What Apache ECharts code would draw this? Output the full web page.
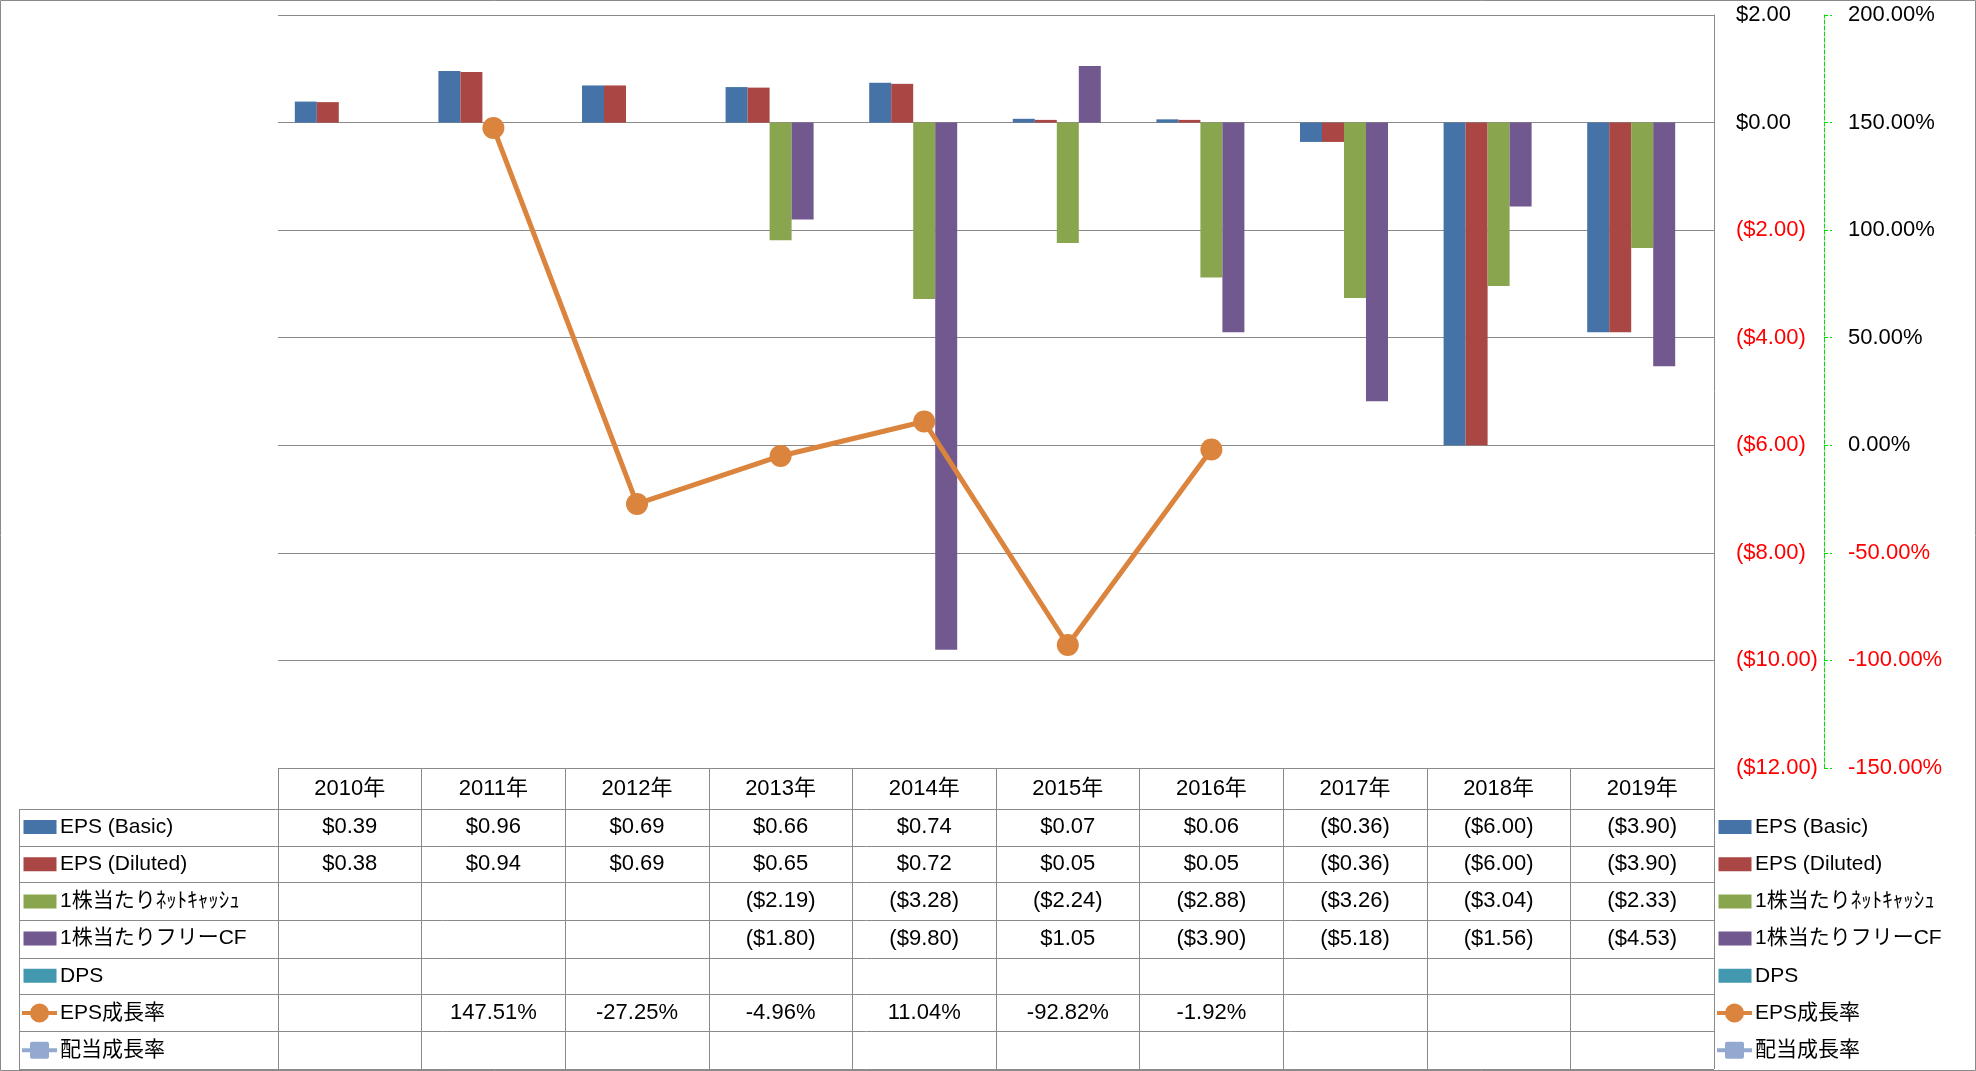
<!DOCTYPE html>
<html>
<head>
<meta charset="utf-8">
<script src="https://cdn.jsdelivr.net/npm/echarts@6/dist/echarts.min.js"></script>
<style>
html,body{margin:0;padding:0;background:#fff;}
#c{width:1976px;height:1071px;}
</style>
</head>
<body>
<div id="c"></div>
<script>
const years = ['2010年','2011年','2012年','2013年','2014年','2015年','2016年','2017年','2018年','2019年'];
const epsBasic   = [0.39, 0.96, 0.69, 0.66, 0.74, 0.07, 0.06, -0.36, -6.00, -3.90];
const epsDiluted = [0.38, 0.94, 0.69, 0.65, 0.72, 0.05, 0.05, -0.36, -6.00, -3.90];
const netCash    = [null, null, null, -2.19, -3.28, -2.24, -2.88, -3.26, -3.04, -2.33];
const freeCF     = [null, null, null, -1.80, -9.80, 1.05, -3.90, -5.18, -1.56, -4.53];
const dps        = [null, null, null, null, null, null, null, null, null, null];
const epsGrowth  = [null, 147.51, -27.25, -4.96, 11.04, -92.82, -1.92, null, null, null];
const divGrowth  = [null, null, null, null, null, null, null, null, null, null];

const seriesNames = ['EPS (Basic)', 'EPS (Diluted)', '1株当たりﾈｯﾄｷｬｯｼｭ', '1株当たりフリーCF', 'DPS', 'EPS成長率', '配当成長率'];
const colors = ['#4572A7', '#AA4643', '#89A54E', '#71588F', '#4198AF', '#DB843D', '#93A9CF'];

const dollarAxis = {min: -12, max: 2, interval: 2};
const pctAxis = {min: -150, max: 200, interval: 50};

const FONT = "'Liberation Sans', 'Noto Sans CJK JP', sans-serif";
const GRID = {left: 278, top: 15, width: 1436, height: 753};
const gridBottom = GRID.top + GRID.height;
const rowLines = [809, 845.5, 882, 920, 957.5, 994, 1031, 1069];
const tableLeft = 19;
const lineGray = '#8a8a8a';

function money(v) {
  if (v === null || v === undefined) return '';
  return v >= 0 ? '$' + v.toFixed(2) : '($' + Math.abs(v).toFixed(2) + ')';
}
function pct(v) {
  if (v === null || v === undefined) return '';
  return v.toFixed(2) + '%';
}

const rows = [
  {data: epsBasic, fmt: money},
  {data: epsDiluted, fmt: money},
  {data: netCash, fmt: money},
  {data: freeCF, fmt: money},
  {data: dps, fmt: money},
  {data: epsGrowth, fmt: pct},
  {data: divGrowth, fmt: pct}
];

const xAxes = [{
  type: 'category', data: years, gridIndex: 0, position: 'bottom',
  axisLine: {show: false, onZero: false},
  axisTick: {show: true, length: 1069 - gridBottom, lineStyle: {color: lineGray, width: 1}},
  splitLine: {show: false},
  axisLabel: {interval: 0, margin: (768 + 809) / 2 - gridBottom, verticalAlign: 'middle',
              fontSize: 22, color: '#000', fontFamily: FONT}
}];
rows.forEach(function (r, k) {
  const top = rowLines[k];
  const bot = rowLines[k + 1];
  xAxes.push({
    type: 'category', data: years, gridIndex: 0, position: 'bottom',
    axisLine: {show: false, onZero: false},
    axisTick: {show: false},
    splitLine: {show: false},
    axisLabel: {interval: 0, margin: (top + bot) / 2 - gridBottom, verticalAlign: 'middle',
                fontSize: 22, color: '#000', fontFamily: FONT,
                formatter: function (v, i) { return r.fmt(r.data[i]); }}
  });
});

const barData = [epsBasic, epsDiluted, netCash, freeCF, dps];
const series = [];
barData.forEach(function (d, i) {
  series.push({
    name: seriesNames[i], type: 'bar', xAxisIndex: 0, yAxisIndex: 0,
    data: d, barGap: '0%', barCategoryGap: '23.4%',
    itemStyle: {color: colors[i]}
  });
});
series.push({
  name: seriesNames[5], type: 'line', xAxisIndex: 0, yAxisIndex: 1,
  data: epsGrowth, symbol: 'circle', symbolSize: 22,
  lineStyle: {color: colors[5], width: 5}, itemStyle: {color: colors[5]}
});
series.push({
  name: seriesNames[6], type: 'line', xAxisIndex: 0, yAxisIndex: 1,
  data: divGrowth, symbol: 'rect', symbolSize: 18,
  lineStyle: {color: colors[6], width: 5}, itemStyle: {color: colors[6]}
});

const barIcon = 'path://M0,0 L0.01,0 M1,2.5 L34,2.5 L34,16.5 L1,16.5 Z M0,19 L0.01,19';
const circleIcon = 'path://M0,7.5 L35,7.5 L35,11.5 L0,11.5 Z M8,9.5 A9.5,9.5 0 1,1 27,9.5 A9.5,9.5 0 1,1 8,9.5 Z';
const squareIcon = 'path://M0,7.5 L35,7.5 L35,11.5 L0,11.5 Z M10,1 L25,1 Q27,1 27,3 L27,16 Q27,18 25,18 L10,18 Q8,18 8,16 L8,3 Q8,1 10,1 Z M0,0 L0.01,0 M0,19 L0.01,19';

function legendData() {
  return seriesNames.map(function (n, i) {
    return {name: n, icon: i < 5 ? barIcon : (i === 5 ? circleIcon : squareIcon)};
  });
}
function makeLegend(left) {
  return {
    orient: 'vertical', left: left, top: 816.5, padding: 0, itemWidth: 35, itemHeight: 19, itemGap: 16.2,
    selectedMode: false, data: legendData(),
    textStyle: {fontSize: 21, color: '#000', fontFamily: FONT, padding: [0, 0, 0, -2]}
  };
}

const graphics = [];
rowLines.forEach(function (y) {
  graphics.push({type: 'line', shape: {x1: tableLeft, y1: Math.round(y) + 0.5, x2: GRID.left + GRID.width, y2: Math.round(y) + 0.5},
                 style: {stroke: lineGray, lineWidth: 1}, silent: true});
});
graphics.push({type: 'line', shape: {x1: tableLeft + 0.5, y1: 809, x2: tableLeft + 0.5, y2: 1069},
               style: {stroke: lineGray, lineWidth: 1}, silent: true});
graphics.push({type: 'rect', shape: {x: 0.5, y: 0.5, width: 1975, height: 1070},
               style: {stroke: lineGray, fill: 'none', lineWidth: 1}, silent: true});

const option = {
  animation: false,
  backgroundColor: '#fff',
  textStyle: {fontFamily: FONT},
  grid: GRID,
  legend: [makeLegend(22), makeLegend(1717)],
  xAxis: xAxes,
  yAxis: [{
    type: 'value', position: 'right', min: dollarAxis.min, max: dollarAxis.max, interval: dollarAxis.interval,
    axisLine: {show: true, lineStyle: {color: lineGray, width: 1}},
    axisTick: {show: false},
    splitLine: {show: true, lineStyle: {color: lineGray, width: 1}},
    axisLabel: {margin: 22, fontSize: 22, fontFamily: FONT, formatter: money,
                color: function (v) { return Number(v) < 0 ? '#FF0000' : '#000'; }}
  }, {
    type: 'value', position: 'right', offset: 110, min: pctAxis.min, max: pctAxis.max, interval: pctAxis.interval,
    axisLine: {show: true, lineStyle: {color: '#00E000', width: 1, type: 'dashed'}},
    axisTick: {show: true, length: 8, lineStyle: {color: '#00E000', width: 1, type: 'dashed'}},
    splitLine: {show: false},
    axisLabel: {margin: 24, fontSize: 22, fontFamily: FONT, formatter: pct,
                color: function (v) { return Number(v) < 0 ? '#FF0000' : '#000'; }}
  }],
  graphic: graphics,
  series: series
};

const chart = echarts.init(document.getElementById('c'), null, {renderer: 'canvas'});
chart.setOption(option);
</script>
</body>
</html>
